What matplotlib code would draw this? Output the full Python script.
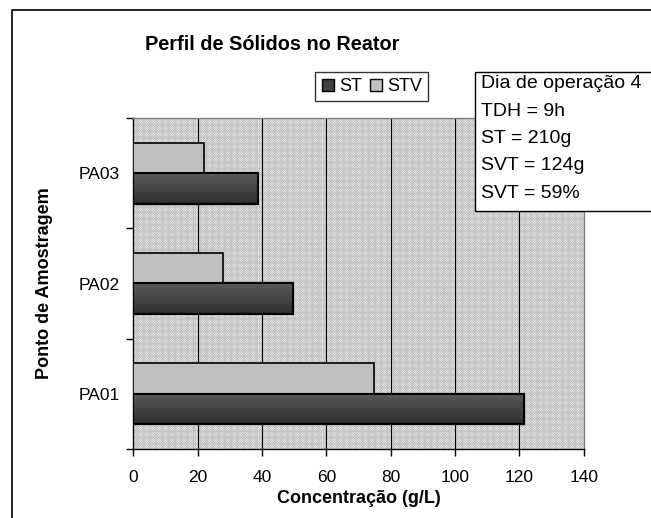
import matplotlib
matplotlib.use("Agg")
import matplotlib.pyplot as plt
import numpy as np
from matplotlib.patches import Rectangle
from matplotlib.lines import Line2D
from matplotlib.colors import LinearSegmentedColormap

plt.rcParams['font.family'] = ['Liberation Sans', 'DejaVu Sans']
plt.rcParams['hatch.linewidth'] = 0.6

categories = ["PA01", "PA02", "PA03"]
st_values = [121.5, 49.6, 38.8]
stv_values = [74.7, 27.9, 22.0]
series_names = ["ST", "STV"]
x_ticks = [0, 20, 40, 60, 80, 100, 120, 140]
title = "Perfil de Sólidos no Reator"
xlabel = "Concentração (g/L)"
ylabel = "Ponto de Amostragem"
info_lines = ["Dia de operação 4", "TDH = 9h", "ST = 210g", "SVT = 124g", "SVT = 59%"]

W, H = 651, 518
fig = plt.figure(figsize=(W / 100, H / 100), dpi=100)
fig.patch.set_facecolor('white')

# outer chart border (partially cropped at right / bottom)
fig.patches.append(Rectangle((12 / W, -0.2), 1.2, 1 - 10 / H + 0.2, transform=fig.transFigure,
                             fill=False, edgecolor='black', linewidth=1.2, zorder=0))

ax = fig.add_axes([133.3 / W, 1 - 448.7 / H, (583.7 - 133.3) / W, (448.7 - 118.3) / H])

# patterned plot area
ax.set_facecolor('white')
bg = Rectangle((0, 0), 1, 1, transform=ax.transAxes, facecolor='white',
               edgecolor='#c4c4c4', hatch='x' * 14, linewidth=0, zorder=0)
ax.add_patch(bg)

# gridlines
for t in x_ticks[1:-1]:
    ax.axvline(t, color='black', linewidth=0.8, zorder=1)

y = np.arange(len(categories))
h = 0.28
bars_st = ax.barh(y - h / 2, st_values, height=h, color='#454545', edgecolor='black',
                  linewidth=1.5, zorder=3)
bars_stv = ax.barh(y + h / 2, stv_values, height=h, color='#c0c0c0', edgecolor='black',
                   linewidth=1.2, zorder=3)

# vertical gradient on dark bars
grad = np.linspace(0, 1, 64).reshape(-1, 1)
cmap = LinearSegmentedColormap.from_list('g', ['#2e2e2e', '#5a5a5a'])
for b in bars_st:
    x0, y0, bw, bh = b.get_x(), b.get_y(), b.get_width(), b.get_height()
    im = ax.imshow(grad, extent=(x0, x0 + bw, y0 + bh, y0), cmap=cmap, aspect='auto',
                   zorder=3.5, origin='upper')
    im.set_clip_path(b)
    ax.add_patch(Rectangle((x0, y0), bw, bh, fill=False, edgecolor='black', linewidth=1.5, zorder=4))
ax.set_aspect('auto')
ax.set_xlim(0, 140)
ax.set_ylim(-0.5, 2.5)

# spines
for s in ['top', 'right']:
    ax.spines[s].set_color('#808080')
    ax.spines[s].set_linewidth(1.0)
for s in ['left', 'bottom']:
    ax.spines[s].set_color('black')
    ax.spines[s].set_linewidth(1.0)

ax.set_xticks(x_ticks)
ax.set_xticklabels([str(t) for t in x_ticks], fontsize=12.5)
ax.tick_params(axis='x', direction='out', length=5, width=1, pad=10)

ax.set_yticks(y)
ax.set_yticklabels(categories, fontsize=12.5)
ax.tick_params(axis='y', length=0, pad=10)
ax.set_yticks([0.5, 1.5, 2.5, -0.5], minor=True)
ax.tick_params(axis='y', which='minor', direction='out', length=5, width=1)

ax.set_xlabel(xlabel, fontsize=13, fontweight='bold', labelpad=4)
ax.set_ylabel(ylabel, fontsize=13, fontweight='bold', labelpad=18)

fig.text(272 / W, 1 - 45 / H, title, fontsize=14.3, fontweight='bold', ha='center', va='center')

# legend
handles = [Line2D([], [], marker='s', linestyle='none', markerfacecolor='#404040',
                  markeredgecolor='black', markersize=8.5),
           Line2D([], [], marker='s', linestyle='none', markerfacecolor='#c0c0c0',
                  markeredgecolor='black', markersize=8.5)]
leg = fig.legend(handles, series_names, loc='center', bbox_to_anchor=(371.5 / W, 1 - 86.5 / H),
                 ncol=2, fontsize=13, frameon=True, fancybox=False, edgecolor='black',
                 handlelength=0.8, handletextpad=0.2, columnspacing=0.4, borderpad=0.35,
                 borderaxespad=0)
leg.get_frame().set_linewidth(1.0)

# info box
fig.patches.append(Rectangle((475 / W, 1 - 211 / H), 200 / W, 139 / H, transform=fig.transFigure,
                             facecolor='white', edgecolor='black', linewidth=1.0, zorder=5))
for i, line in enumerate(info_lines):
    fig.text(481 / W, 1 - (84 + i * 27.3) / H, line, fontsize=14, ha='left', va='center', zorder=6)

fig.savefig('out.png', dpi=100)
